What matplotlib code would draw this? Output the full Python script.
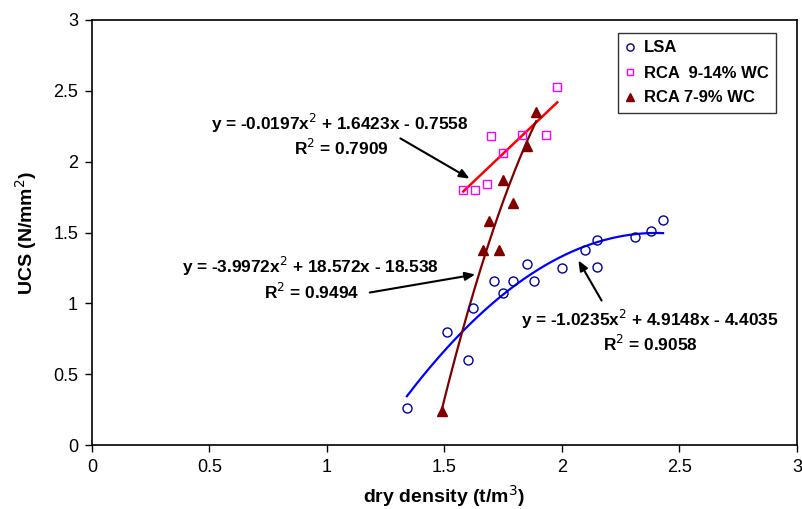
import numpy as np
import matplotlib
matplotlib.use("Agg")
import matplotlib.pyplot as plt

plt.rcParams['font.family'] = ['Liberation Sans', 'DejaVu Sans']

# LSA data
lsa_x = [1.34, 1.51, 1.60, 1.62, 1.71, 1.75, 1.79, 1.85, 1.88, 2.00, 2.10, 2.15, 2.15, 2.31, 2.38, 2.43]
lsa_y = [0.26, 0.80, 0.60, 0.97, 1.16, 1.07, 1.16, 1.28, 1.16, 1.25, 1.38, 1.45, 1.26, 1.47, 1.51, 1.59]
# RCA 9-14% WC
rca1_x = [1.58, 1.63, 1.68, 1.70, 1.75, 1.83, 1.93, 1.98]
rca1_y = [1.80, 1.80, 1.84, 2.18, 2.06, 2.19, 2.19, 2.53]
# RCA 7-9% WC
rca2_x = [1.49, 1.665, 1.69, 1.73, 1.75, 1.79, 1.85, 1.89]
rca2_y = [0.24, 1.38, 1.58, 1.38, 1.87, 1.71, 2.11, 2.35]

# trendline coefficients (from chart equations)
lsa_coef = [-1.0235, 4.9148, -4.4035]
rca1_coef = [-0.0197, 1.6423, -0.7558]
rca2_coef = [-3.9972, 18.572, -18.538]

x_ticks = [0, 0.5, 1, 1.5, 2, 2.5, 3]
y_ticks = [0, 0.5, 1, 1.5, 2, 2.5, 3]
x_tick_labels = ['0', '0.5', '1', '1.5', '2', '2.5', '3']
y_tick_labels = ['0', '0.5', '1', '1.5', '2', '2.5', '3']

fig = plt.figure(figsize=(8.03, 5.09), dpi=100)
ax = fig.add_axes([92/803, 1-445/509, (797-92)/803, (445-20)/509])

def trend(xs, coef):
    xx = np.linspace(min(xs), max(xs), 200)
    return xx, np.polyval(coef, xx)

xx, yy = trend(lsa_x, lsa_coef)
ax.plot(xx, yy, color='#0000FF', lw=1.6, zorder=2)
xx, yy = trend(rca1_x, rca1_coef)
ax.plot(xx, yy, color='#FF0000', lw=1.8, zorder=2)
xx, yy = trend(rca2_x, rca2_coef)
ax.plot(xx, yy, color='#800000', lw=1.6, zorder=2)

ax.plot(lsa_x, lsa_y, 'o', ms=6.5, mfc='none', mec='#000099', mew=1.0, label='LSA', zorder=3)
ax.plot(rca1_x, rca1_y, 's', ms=6, mfc='none', mec='#FF00FF', mew=1.0, label='RCA  9-14% WC', zorder=3)
ax.plot(rca2_x, rca2_y, '^', ms=6.5, color='#800000', mec='#800000', label='RCA 7-9% WC', zorder=3)

ax.set_xlim(0, 3)
ax.set_ylim(0, 3)
ax.set_xticks(x_ticks)
ax.set_xticklabels(x_tick_labels)
ax.set_yticks(y_ticks)
ax.set_yticklabels(y_tick_labels)
ax.tick_params(direction='out', length=5, width=1, labelsize=13, pad=5)
for s in ax.spines.values():
    s.set_linewidth(1.2)

ax.set_xlabel('dry density (t/m$^3$)', fontsize=14, fontweight='bold', labelpad=5)
ax.set_ylabel('UCS (N/mm$^2$)', fontsize=14, fontweight='bold', labelpad=10)

leg = ax.legend(loc='upper left', bbox_to_anchor=((618-92)/705, 1-(33-20)/425),
                prop={'weight': 'bold', 'size': 12}, frameon=True, fancybox=False,
                edgecolor='black', handlelength=0.6, handletextpad=0.5, borderpad=0.45,
                labelspacing=0.6, borderaxespad=0, markerscale=0.8)
leg.get_frame().set_linewidth(1.0)

def px2data(px, py):
    return ((px - 92) / 235.0, (445 - py) / (425/3.0))

tkw = dict(ha='center', va='center', fontsize=12.4, fontweight='bold')
ax.text(*px2data(340, 123), 'y = -0.0197x$^2$ + 1.6423x - 0.7558', **tkw)
ax.text(*px2data(341, 148), 'R$^2$ = 0.7909', **tkw)
ax.text(*px2data(310, 266), 'y = -3.9972x$^2$ + 18.572x - 18.538', **tkw)
ax.text(*px2data(312, 292), 'R$^2$ = 0.9494', **tkw)
ax.text(*px2data(650, 319), 'y = -1.0235x$^2$ + 4.9148x - 4.4035', **tkw)
ax.text(*px2data(650, 344), 'R$^2$ = 0.9058', **tkw)

akw = dict(arrowstyle='-|>,head_length=0.6,head_width=0.25', color='black', lw=1.5)
ax.annotate('', xy=px2data(472, 180), xytext=px2data(398, 137), arrowprops=akw)
ax.annotate('', xy=px2data(478, 274), xytext=px2data(367, 293), arrowprops=akw)
ax.annotate('', xy=px2data(577, 258), xytext=px2data(603, 303), arrowprops=akw)

fig.savefig('out.png', dpi=100)
